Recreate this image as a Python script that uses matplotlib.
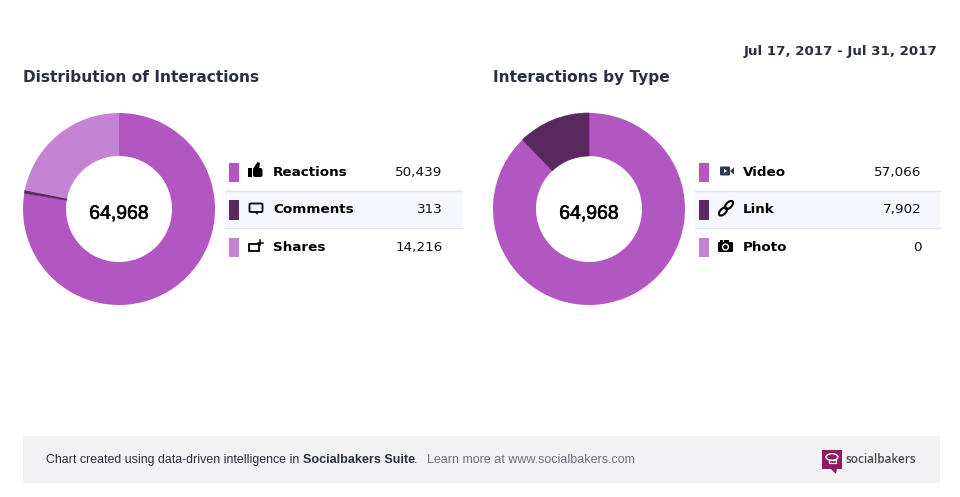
import matplotlib
matplotlib.use('Agg')
import matplotlib.pyplot as plt
import matplotlib.patheffects as pe
from matplotlib.patches import Rectangle, FancyBboxPatch, Polygon, Circle, Ellipse

W, H = 960, 497

date_range = 'Jul 17, 2017 - Jul 31, 2017'
total = '64,968'

title_left = 'Distribution of Interactions'
labels_left = ['Reactions', 'Comments', 'Shares']
values_left = [50439, 313, 14216]

title_right = 'Interactions by Type'
labels_right = ['Video', 'Link', 'Photo']
values_right = [57066, 7902, 0]

colors = ['#B256C1', '#59285F', '#C583D4']
ink = '#2A3040'


def donut(cx, values):
    # axes box in pixels, the pie fills it
    r = 96
    a = fig.add_axes([(cx - r) / W, 1 - (209 + r) / H, 2 * r / W, 2 * r / H])
    wedges, _ = a.pie(values, colors=colors, startangle=90, counterclock=False, radius=1,
                      wedgeprops=dict(width=43 / 96, linewidth=0))
    wedges[1].set_edgecolor(colors[1])
    wedges[1].set_linewidth(0.5)
    a.set_xlim(-1, 1)
    a.set_ylim(-1, 1)
    t = a.text(0, -0.055, total, ha='center', va='center', fontsize=14, color='black',
               family='Liberation Sans')
    t.set_path_effects([pe.withStroke(linewidth=0.4, foreground='black')])


def icon_thumb(x, y):
    ax.add_patch(Rectangle((x, y - 3), 4, 9, color='black', lw=0))
    ax.add_patch(FancyBboxPatch((x + 5, y - 3), 9.5, 9, boxstyle='round,pad=0,rounding_size=2', color='black', lw=0))
    ax.add_patch(Polygon([(x + 5, y - 2), (x + 9.5, y - 9), (x + 12, y - 8), (x + 11, y - 2)], color='black', lw=0))


def icon_comment(x, y):
    ax.add_patch(FancyBboxPatch((x + 1.5, y - 5), 13, 8.5, boxstyle='round,pad=0,rounding_size=1.2',
                                fc='none', ec='black', lw=1.3))
    ax.add_patch(Polygon([(x + 6, y + 3.5), (x + 10, y + 3.5), (x + 9.5, y + 6.5)], color='black', lw=0))


def icon_share(x, y):
    ax.add_patch(Rectangle((x + 1, y - 2.5), 9.5, 7, fc='none', ec='black', lw=1.3))
    ax.plot([x + 9.5, x + 14.5], [y - 3.5, y - 3.5], color='black', lw=1.1)
    ax.plot([x + 12, x + 12], [y - 6, y - 1], color='black', lw=1.1)


def icon_video(x, y):
    x += 2
    ax.add_patch(FancyBboxPatch((x, y - 4.5), 10, 9, boxstyle='round,pad=0,rounding_size=1.2', color='#2E3A4E', lw=0))
    ax.add_patch(Polygon([(x + 10.5, y - 0.5), (x + 14, y - 3.5), (x + 14, y + 3.5), (x + 10.5, y + 0.5)],
                         color='#2E3A4E', lw=0))
    ax.add_patch(Polygon([(x + 4, y - 2), (x + 7, y), (x + 4, y + 2)], color='white', lw=0))


def icon_link(x, y):
    for dx, dy in [(5, 3), (11, -3.5)]:
        ax.add_patch(Ellipse((x + dx, y + dy), 10, 5.5, angle=-45, fc='none', ec='black', lw=1.5))


def icon_photo(x, y):
    ax.add_patch(FancyBboxPatch((x, y - 4), 15, 10, boxstyle='round,pad=0,rounding_size=1.2', color='black', lw=0))
    ax.add_patch(Rectangle((x + 1.5, y - 6), 3, 2, color='black', lw=0))
    ax.add_patch(Rectangle((x + 6, y - 6), 5, 2, color='black', lw=0))
    ax.add_patch(Circle((x + 7.5, y + 1), 3.6, fc='white', ec='none'))
    ax.add_patch(Circle((x + 7.5, y + 1), 2.2, fc='black', ec='none'))


def legend(x0, x1, labels, values, icons, x_value):
    rows = [172, 209.5, 247]
    base = [176, 213, 251]
    ax.add_patch(Rectangle((x0, 190.5), x1 - x0, 37.5, fc='#F6F7FE', ec='none'))
    ax.plot([x0, x1], [190.5, 190.5], color='#DDE3F5', lw=0.9)
    ax.plot([x0, x1], [228, 228], color='#DDE3F5', lw=0.9)
    for i, (lab, val) in enumerate(zip(labels, values)):
        y = rows[i]
        ax.add_patch(Rectangle((x0 + 4.2, y - 9.5), 10, 19.5, color=colors[i], lw=0))
        icons[i](x0 + 23, y - 1)
        ax.text(x0 + 48, base[i], lab, fontsize=9.7, fontweight='bold', color='black', va='baseline', ha='left')
        ax.text(x_value + 0.5, base[i], f'{val:,}', fontsize=9.7, color='#111111', va='baseline', ha='right')


fig = plt.figure(figsize=(W / 100, H / 100), dpi=100)
# overlay in pixel coordinates, y pointing down like the screenshot
ax = fig.add_axes([0, 0, 1, 1])
ax.set_xlim(0, W)
ax.set_ylim(H, 0)
ax.axis('off')

ax.text(937.5, 55.5, date_range, ha='right', va='baseline', fontsize=9.65, fontweight='bold', color=ink)
ax.text(23, 82, title_left, ha='left', va='baseline', fontsize=11.1, fontweight='bold', color=ink)
ax.text(493, 82, title_right, ha='left', va='baseline', fontsize=11.1, fontweight='bold', color=ink)

legend(225, 462, labels_left, values_left, [icon_thumb, icon_comment, icon_share], 442)
legend(695, 940, labels_right, values_right, [icon_video, icon_link, icon_photo], 921)

donut(119, values_left)
donut(589, values_right)

# footer band
ax.add_patch(Rectangle((23, 436), 917, 47, fc='#F2F2F4', ec='none'))
ax.text(46, 463, 'Chart created using data-driven intelligence in ', family='Liberation Sans',
        fontsize=8.9, color='#2A3040', va='baseline', ha='left')
ax.text(303, 463, 'Socialbakers Suite', family='Liberation Sans', fontsize=9.05, fontweight='bold',
        color='#2A3040', va='baseline', ha='left')
ax.text(414, 463, '.', family='Liberation Sans', fontsize=9, color='#2A3040', va='baseline', ha='left')
ax.text(427, 463, 'Learn more at www.socialbakers.com', family='Liberation Sans', fontsize=8.97,
        color='#6C7280', va='baseline', ha='left')

# logo
ax.add_patch(Rectangle((822, 449.5), 20, 19, fc='#8E1B5E', ec='none'))
ax.add_patch(Polygon([(830, 468), (837, 468), (836, 474)], fc='#8E1B5E', ec='none'))
ax.add_patch(Ellipse((832, 457), 12, 6.5, fc='none', ec='white', lw=1))
ax.add_patch(Rectangle((828.5, 459.5), 7, 3.5, fc='none', ec='white', lw=0.9))
ax.text(846, 463, 'socialbakers', family='Open Sans', fontsize=8.5, fontweight='semibold', color='#4A4A4E',
        va='baseline', ha='left')

fig.savefig('out.png', dpi=100)
